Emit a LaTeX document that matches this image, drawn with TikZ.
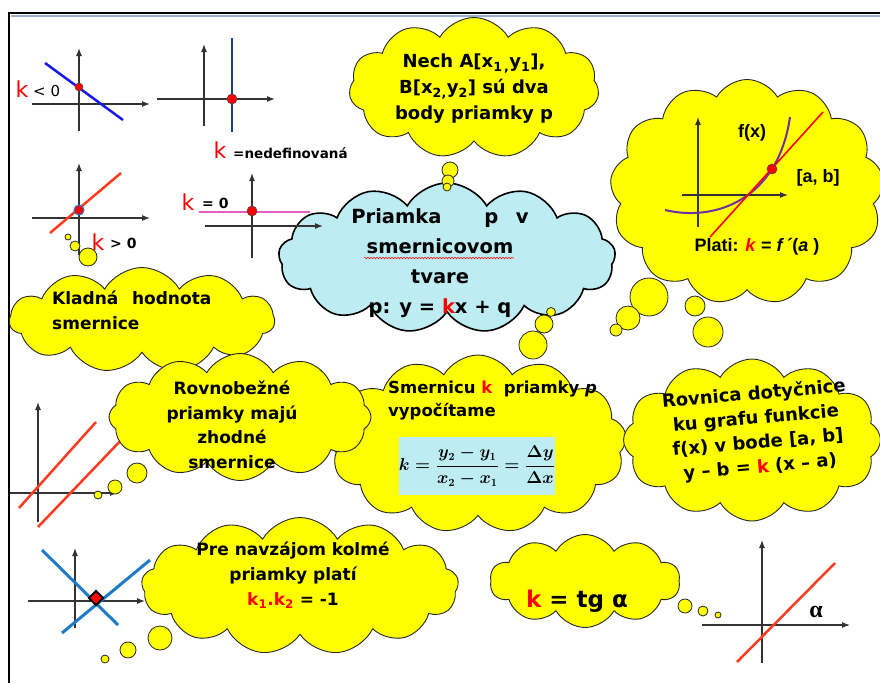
\documentclass[tikz,border=0pt]{standalone}
\usepackage{fontspec}
\usepackage{amsmath}
\setmainfont{DejaVu Sans}
\newfontfamily\arialf{Liberation Sans}
\newfontfamily\serifalpha{Liberation Serif}
\usetikzlibrary{shapes.symbols,shapes.geometric,arrows.meta,decorations.pathmorphing}
\definecolor{cyellow}{HTML}{FFFF00}
\definecolor{cblue}{HTML}{BDEDF2}
\definecolor{axisgray}{HTML}{333333}
\definecolor{lblue}{HTML}{1A1AE6}
\definecolor{navy}{HTML}{1F3C88}
\definecolor{ored}{HTML}{FF3B1F}
\definecolor{cpink}{HTML}{E060C0}
\definecolor{pblue}{HTML}{1E7BC8}
\definecolor{cpurple}{HTML}{7030A0}
\definecolor{shadowblue}{HTML}{9AAFCF}
\newcommand{\kformula}{{\fontsize{16}{18}\selectfont\boldmath$\displaystyle k=\frac{y_2-y_1}{x_2-x_1}=\frac{\Delta y}{\Delta x}$}}
\begin{document}
\begin{tikzpicture}[x=1pt,y=-1pt,
  cl/.style={cloud, draw=black!85, fill=cyellow, line width=0.9pt, cloud puff arc=120, cloud ignores aspect, inner sep=0pt},
  bub/.style={draw=black!85, fill=cyellow, line width=0.8pt},
  axis/.style={draw=axisgray, line width=1.1pt},
  axarr/.style={axis, -{Latex[length=8pt,width=6pt]}},
  txt/.style={font=\bfseries\fontsize{17}{25}\selectfont, align=center, inner sep=0pt},
  atxt/.style={font=\arialf\bfseries\fontsize{18}{22}\selectfont, inner sep=0pt},
  small/.style={font=\bfseries\fontsize{14}{16}\selectfont, inner sep=0pt},
  bigk/.style={font=\fontsize{22}{24}\selectfont, text=red, inner sep=0pt},
  dot/.style={fill=red, draw=black!70, line width=0.6pt}
]
\useasboundingbox (0,0) rectangle (880,683);
\fill[white] (0,0) rectangle (880,683);
% frame
\draw[shadowblue, line width=2pt] (11,16) -- (880,16);
\draw[line width=2pt] (9,683) -- (9,13) -- (880,13);

% graph k<0
\draw[axarr] (79,131) -- (79,48);
\draw[axarr] (32,104) -- (150,104);
\draw[lblue, line width=2.5pt] (45,63) -- (123,120);
\draw[dot] (79,87) circle[radius=4];
\node[bigk] (k1) at (22,89) {k};
\node[small, anchor=west, font=\fontsize{15}{16}\selectfont] (k1t) at (33,91) {< 0};

% graph undefined
\draw[axarr] (204,126) -- (204,44);
\draw[axarr] (157,99) -- (275,99);
\draw[navy, line width=2.5pt] (232,38) -- (232,132);
\draw[dot] (232,99) circle[radius=5];
\node[bigk] (k2) at (220,150) {k};
\node[font=\bfseries\fontsize{13.5}{15}\selectfont, anchor=west, inner sep=0pt] (k2t) at (233,153) {=nedefinovaná};

% graph k>0
\draw[axarr] (79,255) -- (79,163);
\draw[axarr] (32,218) -- (150,218);
\draw[ored, line width=2.5pt] (50,233) -- (121,173);
\draw[fill=red, draw=pblue, line width=1pt] (79,210) circle[radius=5];
\node[bigk] (k3) at (98,242) {k};
\node[small, anchor=west] (k3t) at (110,243) {> 0};

% graph k=0
\draw[axarr] (252,258) -- (252,173);
\draw[cpink, line width=2pt] (199,212) -- (310,212);
\draw[dot] (252,211) circle[radius=5];
\node[bigk] (k4) at (188,202) {k};
\node[small, anchor=west] (k4t) at (202,203) {= 0};

% parallel lines graph
\draw[axarr] (38,522) -- (38,402);
\draw[axarr] (10,493) -- (118,493);
\draw[ored, line width=2.5pt] (19,508) -- (96,422);
\draw[ored, line width=2.5pt] (38,527) -- (125,436);

% perpendicular graph
\draw[axarr] (75,628) -- (75,548);
\draw[axarr] (28,601) -- (145,601);
\draw[pblue, line width=3pt] (42,550) -- (118,625);
\draw[pblue, line width=3pt] (62,633) -- (150,560);
\node[diamond, draw=black, fill=red, line width=1.8pt, minimum size=15pt, inner sep=0pt] (rsq) at (96,598) {};

% alpha graph
\draw[axarr] (762,663) -- (762,540);
\draw[axarr] (702,625) -- (850,625);
\draw[ored, line width=2.5pt] (737,662) -- (835,563);
\node[font=\serifalpha\bfseries\fontsize{24}{24}\selectfont, inner sep=0pt] (alph) at (816,612) {α};

% clouds
\node[cl, cloud puffs=11, minimum width=265pt, minimum height=105pt] (kladna) at (142,320) {};
\node[cl, cloud puffs=13, fill=cblue, line width=1.6pt, draw=black, minimum width=337pt, minimum height=150pt] (center) at (447,258) {};
\node[cl, cloud puffs=11, minimum width=250pt, minimum height=141pt] (nech) at (474,88) {};
\node[cl, cloud puffs=13, minimum width=274pt, minimum height=225pt] (right) at (747,192) {};
\node[cl, cloud puffs=13, minimum width=297pt, minimum height=178pt] (smer) at (478,444) {};
\node[cl, cloud puffs=12, minimum width=262pt, minimum height=127pt] (rovnob) at (240,417) {};
\node[cl, cloud puffs=12, minimum width=257pt, minimum height=162pt] (rovnica) at (752,440) {};
\node[cl, cloud puffs=13, minimum width=317pt, minimum height=137pt] (pre) at (300,586) {};
\node[cl, cloud puffs=10, minimum width=190pt, minimum height=93pt] (tg) at (585,581) {};

% bubbles
\draw[bub] (450,170) circle[radius=8];
\draw[bub] (448,181) circle[radius=6];
\draw[bub] (447,187) circle[radius=4];
\draw[bub] (88,257) circle[radius=9];
\draw[bub] (75,246) circle[radius=5];
\draw[bub] (68,237) circle[radius=3];
\draw[bub] (649,297) circle[radius=19];
\draw[bub] (628,318) circle[radius=12];
\draw[bub] (616,330) circle[radius=6];
\draw[bub] (695,306) circle[radius=10];
\draw[bub] (708,332) circle[radius=15];
\draw[bub] (551,312) circle[radius=4.5];
\draw[bub] (544,324) circle[radius=9];
\draw[bub] (533,345) circle[radius=14];
\draw[bub] (137,473) circle[radius=10];
\draw[bub] (115,487) circle[radius=7];
\draw[bub] (98,495) circle[radius=4];
\draw[bub] (160,638) circle[radius=12];
\draw[bub] (128,650) circle[radius=8];
\draw[bub] (105,659) circle[radius=4];
\draw[bub] (685,606) circle[radius=7];
\draw[bub] (703,611) circle[radius=5];
\draw[bub] (718,615) circle[radius=3];

% k=0 horizontal axis over the cloud
\draw[axarr] (205,226) -- (323,226);

% texts
\node[txt, font=\bfseries\fontsize{18}{26}\selectfont] (tnech) at (474,89) {Nech A[x\textsubscript{1\,,}y\textsubscript{1}],\\B[x\textsubscript{2,}y\textsubscript{2}] sú dva\\body priamky p};
\node[txt, font=\bfseries\fontsize{19.5}{30}\selectfont] (tcenter) at (440,263) {Priamka\hspace{2.2em}p\hspace{0.9em}v\\smernicovom\\tvare\\p: y = {\color{red}k}x + q};
\draw[red, line width=0.5pt, decorate, decoration={snake, amplitude=0.8pt, segment length=3pt}] (364,258) -- (514,258);
\node[txt, align=left, anchor=west] (tkladna) at (52,310) {Kladná\hspace{0.8em}hodnota\\smernice};
\node[txt, font=\bfseries\fontsize{17}{24.5}\selectfont] (trovnob) at (232,425) {Rovnobežné\\priamky majú\\zhodné\\smernice};
\node[txt, font=\bfseries\fontsize{16.5}{23}\selectfont, align=left, anchor=west] (tsmer) at (388,401) {Smernicu {\color{red}k}\hspace{0.7em}priamky \textit{p}\\vypočítame};
\node[fill=cblue, minimum width=149pt, minimum height=58pt, inner sep=0pt] (formula) at (477,466) {\kformula};
\node[txt, font=\bfseries\fontsize{18}{24.5}\selectfont, rotate=5] (trovnica) at (757,431) {Rovnica dotyčnice\\ku grafu funkcie\\f(x) v bode [a, b]\\y – b = {\color{red}k} (x – a)};
\node[txt, font=\bfseries\fontsize{17}{25}\selectfont] (tpre) at (293,575) {Pre navzájom kolmé\\priamky platí\\{\color{red}k\textsubscript{1}.k\textsubscript{2}} = -1};
\node[txt, font=\bfseries\fontsize{23}{24}\selectfont] (ttg) at (577,601) {{\color{red}k} = tg α};

% tangent plot in right cloud
\draw[axarr] (698,227) -- (698,117);
\draw[axarr] (682,195) -- (788,195);
\draw[cpurple, line width=2pt] (665,210) .. controls (715,222) and (778,200) .. (790,117);
\draw[red, line width=1.6pt] (710,237) -- (823,112);
\draw[dot] (772,169) circle[radius=5];
\node[atxt] (tfx) at (752,133) {f(x)};
\node[atxt] (tab) at (818,178) {[a, b]};
\node[atxt] (tplati) at (757,247) {Plati: {\color{red}\textit{k}} = \textit{f\,´}(\textit{a} )};
\end{tikzpicture}
\end{document}
